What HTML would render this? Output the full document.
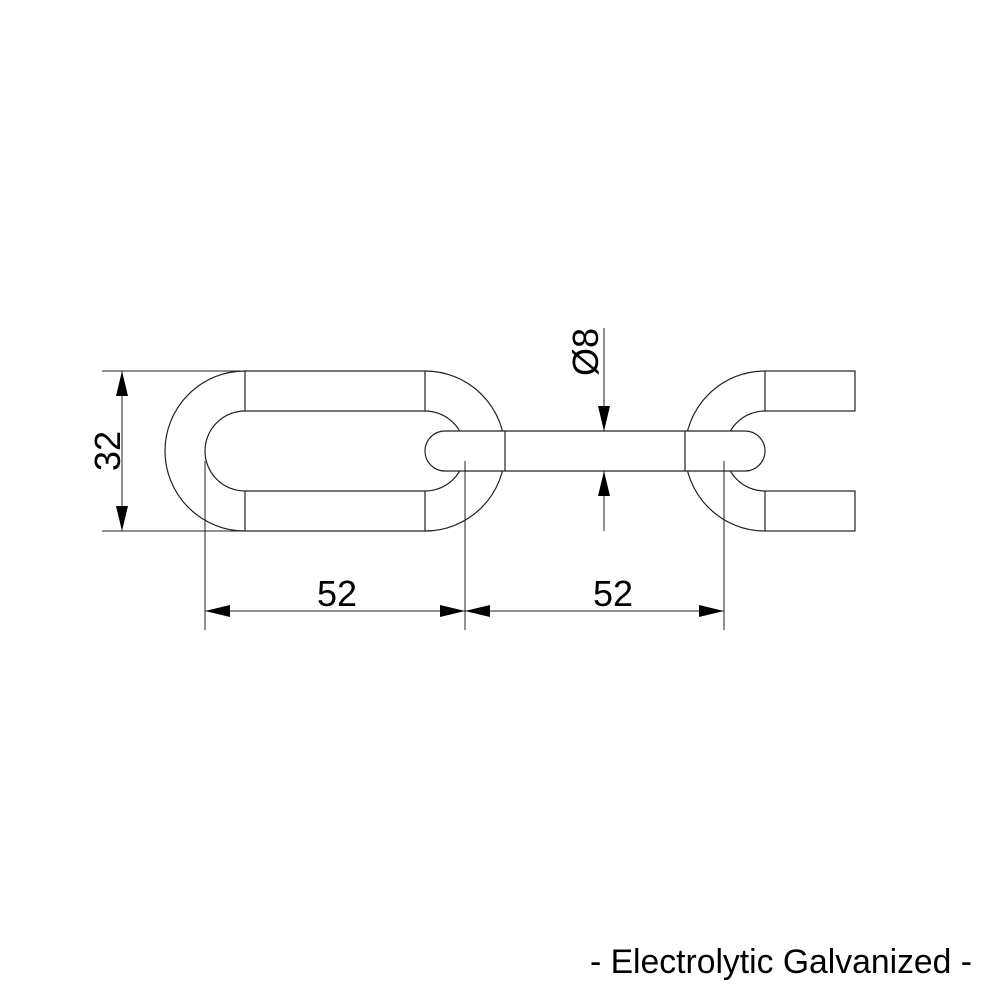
<!DOCTYPE html>
<html><head><meta charset="utf-8"><style>
html,body{margin:0;padding:0;background:#fff;}
svg{display:block}
text{font-family:"Liberation Sans",Arial,sans-serif;fill:#000}
</style></head><body>
<svg width="1000" height="1000" viewBox="0 0 1000 1000" xmlns="http://www.w3.org/2000/svg">
<g fill="none" stroke="#222" stroke-width="1.2">
  <!-- left link outer -->
  <path d="M245,371 L425,371 A80,80 0 0 1 425,531 L245,531 A80,80 0 0 1 245,371 Z"/>
  <!-- left link inner -->
  <path d="M245,411 L425,411 A40,40 0 0 1 425,491 L245,491 A40,40 0 0 1 245,411 Z"/>
  <line x1="245" y1="371" x2="245" y2="411"/>
  <line x1="245" y1="491" x2="245" y2="531"/>
  <line x1="425" y1="371" x2="425" y2="411"/>
  <line x1="425" y1="491" x2="425" y2="531"/>
  <!-- right link -->
  <path d="M765,371 A80,80 0 0 0 765,531"/>
  <path d="M765,411 A40,40 0 0 0 765,491"/>
  <rect x="765" y="371" width="90" height="40"/>
  <rect x="765" y="491" width="90" height="40"/>
  <!-- middle bar -->
  <path d="M445,431 L745,431 A20,20 0 0 1 745,471 L445,471 A20,20 0 0 1 445,431 Z" fill="#fff"/>
  <line x1="505" y1="431" x2="505" y2="471"/>
  <line x1="685" y1="431" x2="685" y2="471"/>
</g>
<g stroke="#222" stroke-width="1" fill="none">
  <!-- 32 dim -->
  <line x1="102" y1="371" x2="240" y2="371"/>
  <line x1="102" y1="531" x2="240" y2="531"/>
  <line x1="122" y1="371" x2="122" y2="531"/>
  <!-- 52 ext lines -->
  <line x1="205" y1="461" x2="205" y2="630"/>
  <line x1="465" y1="461" x2="465" y2="630"/>
  <line x1="724" y1="461" x2="724" y2="630"/>
  <line x1="205" y1="611" x2="724" y2="611"/>
  <!-- dia -->
  <line x1="604" y1="328" x2="604" y2="431"/>
  <line x1="604" y1="471" x2="604" y2="531"/>
</g>
<g fill="#000">
  <polygon points="122,371 116,396 128,396"/>
  <polygon points="122,531 116,506 128,506"/>
  <polygon points="205,611 230,605 230,617"/>
  <polygon points="465,611 440,605 440,617"/>
  <polygon points="465,611 490,605 490,617"/>
  <polygon points="724,611 699,605 699,617"/>
  <polygon points="604,431 598,406 610,406"/>
  <polygon points="604,471 598,496 610,496"/>
</g>
<text x="337" y="606" font-size="36" text-anchor="middle">52</text>
<text x="613" y="606" font-size="36" text-anchor="middle">52</text>
<text transform="translate(120,451) rotate(-90)" font-size="36" text-anchor="middle">32</text>
<text transform="translate(598,352) rotate(-90)" font-size="36" text-anchor="middle">Ø8</text>
<text x="972" y="973" font-size="34" text-anchor="end" textLength="382" lengthAdjust="spacingAndGlyphs">- Electrolytic Galvanized -</text>
</svg>
</body></html>
